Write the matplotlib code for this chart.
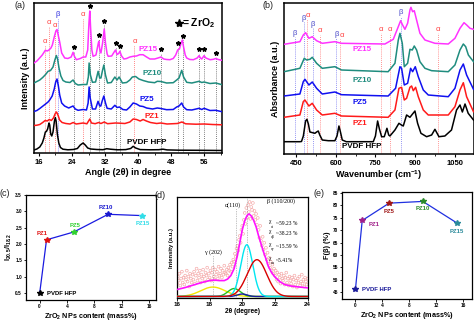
import numpy as np
import matplotlib
matplotlib.use("Agg")
import matplotlib.pyplot as plt

plt.rcParams["font.family"] = ["Liberation Sans", "DejaVu Sans"]
plt.rcParams["mathtext.fontset"] = "custom"
plt.rcParams["mathtext.rm"] = "Liberation Sans"
plt.rcParams["mathtext.bf"] = "Liberation Sans:bold"
plt.rcParams["mathtext.it"] = "Liberation Sans:italic"

W, H = 474, 321

# ---------------- (a) XRD patterns: (2theta, intensity) ----------------
xrd_pvdf_x = [14.8, 15.5, 16.2, 16.8, 17.2, 17.55, 17.8, 18.1, 18.43, 18.6, 18.85, 19.1, 19.4, 19.75, 19.96, 20.15,
              20.45, 20.8, 21.2, 21.8, 23, 24.3, 25.3, 26.0, 26.68, 27.2, 27.8, 28.5, 30, 31.5, 32.4, 33.3, 35, 37,
              38.2, 38.8, 39.4, 40.5, 43, 45, 46, 47, 50, 55, 60.3]
xrd_pvdf_y = [3, 4, 6, 10, 15, 21, 21.5, 24, 30, 28, 19, 17, 21, 32, 35.5, 32,
              19, 10, 5.5, 3.8, 3.2, 3.5, 4.5, 8, 10, 8, 5, 4, 3.5, 3.3, 4.3, 3.8, 3.2, 3.4,
              4.5, 6.7, 5, 3.4, 3.2, 3.3, 3.8, 3.1, 2.8, 2.7, 2.5]

xrd_pz1_x = [14.8, 15.5, 16.2, 16.9, 17.5, 18.0, 18.5, 19.0, 19.5, 19.95, 20.25, 20.6, 21.0, 21.6, 22.5, 23.5, 24.3,
             25, 26.7, 27.6, 28.3, 28.7, 29.6, 30.45, 31.0, 31.8, 32.6, 34.5, 35.6, 36.8, 38.0, 38.8, 39.6, 40.5,
             41.2, 42.0, 43.0, 44.5, 45.5, 47, 49.5, 50.6, 51.5, 54, 56, 58, 60.3]
xrd_pz1_y = [27.5, 27.8, 28.5, 30.5, 32.5, 32, 33.5, 32.5, 35, 39.5, 41, 38, 33, 30.5, 29.5, 29, 30.5,
             29, 30, 29.2, 34, 30, 29.3, 30.5, 29.5, 31, 29.3, 30, 29.8, 29.5, 31, 34, 33.5, 32,
             33.5, 32, 30.5, 29.5, 30, 29, 29.5, 31, 29.2, 28.8, 29, 28.5, 28.2]

xrd_pz5_x = [14.8, 15.5, 16.2, 16.97, 17.6, 18.2, 18.6, 19.2, 19.7, 20.05, 20.37, 20.7, 21.02, 21.5, 22.2, 23.2,
             24.25, 24.8, 25.47, 26.7, 27.5, 27.9, 28.14, 28.4, 28.94, 29.7, 30.3, 30.7, 30.97, 31.3, 31.7, 32.1,
             32.5, 33.5, 34.37, 34.9, 35.5, 36.3, 37.2, 38.0, 38.8, 39.6, 40.4, 41.2, 42.05, 43.5, 44.64, 45.5,
             46.9, 48.5, 49.33, 49.9, 50.55, 51.0, 51.76, 53.0, 54.75, 55.4, 55.96, 57.4, 58.8, 60.3]
xrd_pz5_y = [41.5, 42.5, 44.5, 47, 49, 51, 53, 57, 64, 71, 74, 67, 58, 50, 47, 45,
             47, 44, 42.7, 43.5, 43, 50, 66, 55, 44, 44, 51.7, 47, 47, 52, 57, 50,
             44.7, 44, 47.7, 45.5, 46, 43.5, 43, 46, 50, 49, 47, 46.5, 45, 44, 45, 44.5,
             43.3, 43.5, 46, 47, 50, 46, 43.3, 43, 44.7, 43.5, 44.7, 42.5, 42.7, 41.3]

xrd_pz10_x = [14.8, 15.5, 16.2, 16.9, 17.6, 18.2, 18.8, 19.4, 19.85, 20.21, 20.5, 20.85, 21.3, 21.83, 22.5, 23.5,
              24.25, 24.8, 25.47, 26.7, 27.6, 27.95, 28.14, 28.45, 28.94, 29.7, 30.32, 30.7, 31.0, 31.35, 31.7,
              32.1, 32.6, 33.5, 34.37, 34.9, 35.4, 36.2, 37.2, 38.0, 38.6, 39.4, 40.2, 41.2, 42.5, 44.0, 44.64,
              45.5, 46.9, 48.5, 49.33, 49.9, 50.55, 51.0, 51.76, 53.0, 54.75, 55.4, 55.96, 57.4, 58.8, 60.3]
xrd_pz10_y = [70, 71.5, 73, 75.5, 78.5, 81.7, 82.5, 86, 93, 97.5, 94, 85, 77, 72.5, 71, 70.5,
              73, 69.5, 68, 68.5, 68.5, 76, 90, 78, 70.7, 71, 81.7, 75, 75, 82, 88,
              78, 70, 70.5, 76, 73, 76, 70, 70.5, 73, 76, 76.5, 74, 72.5, 71, 70.3, 71.7,
              71.5, 70, 70.3, 73, 75, 82.7, 76, 70.7, 70, 71.7, 70.5, 71, 69.5, 70, 68.3]

xrd_pz15_x = [14.8, 15.5, 16.16, 16.8, 17.54, 18.0, 18.43, 18.9, 19.24, 19.7, 20.1, 20.37, 20.7, 21.02, 21.5, 22.23,
              23.0, 23.8, 24.25, 24.6, 25.06, 26.0, 26.7, 27.33, 27.8, 28.1, 28.3, 28.5, 28.8, 29.1, 29.8, 30.32,
              30.48, 30.7, 31.0, 31.4, 31.8, 32.1, 32.5, 32.75, 33.6, 34.2, 34.53, 34.9, 35.3, 35.58, 36.0, 36.55,
              37.2, 38.0, 38.8, 39.6, 40.4, 41.2, 42.05, 42.86, 44.0, 44.8, 45.53, 46.2, 46.9, 47.7, 48.5, 49.1,
              49.57, 50.0, 50.4, 50.7, 51.0, 51.4, 51.76, 52.5, 53.38, 54.3, 54.75, 55.1, 55.4, 55.96, 56.4,
              57.42, 58.2, 58.8, 59.4, 60.3]
xrd_pz15_y = [90, 92, 95, 98, 102.7, 102, 103, 105, 108, 116, 122, 123.5, 117, 111, 100, 95,
              94.5, 96, 100.7, 96.5, 93.3, 94.5, 96, 96, 103, 130, 142, 125, 103, 96.7, 98, 109,
              111.7, 104, 100, 110, 124, 110, 99, 96.7, 97, 101, 103, 98.5, 99.5, 101.7, 97, 94,
              94.5, 96, 96.7, 97, 98.3, 98.3, 96, 94, 94, 95, 96, 94, 93.5, 93.3, 94.5, 98,
              103, 104, 110, 113, 106, 98, 95, 93.5, 93.3, 95, 97.3, 95, 94, 97.3, 95,
              93.3, 93.7, 94.5, 93.5, 92.7]

zro2_peaks = [24.4, 28.4, 30.5, 31.85, 34.6, 35.7, 45.5, 49.6, 50.75, 54.75, 56.05, 58.8]
zro2_star_y = [106, 147, 118, 131.7, 110, 106.7, 104, 110, 117, 104, 104, 100]
xrd_alpha_x = [17.5, 18.45, 19.8, 26.7, 39.1]
xrd_alpha_y = [111.7, 130, 127, 138, 111.7]
xrd_beta_x = [20.6]
xrd_beta_y = [138]

# ---------------- (b) FTIR spectra: (wavenumber, absorbance) ----------------
ir_pvdf_x = [405, 465, 471, 478, 486.5, 491.5, 497, 502.8, 521.7, 528, 534.3, 540, 549.4, 572, 597, 605, 612.3,
             618, 624.8, 640, 741.8, 750, 758.2, 765, 773.3, 783.3, 793.4, 800, 804.7, 823.6, 838.7, 848, 855,
             867.6, 880.2, 890, 899.1, 909.1, 921.7, 943.1, 962, 974.5, 989.6, 1012, 1037, 1056, 1069, 1078,
             1088, 1100, 1120]
ir_pvdf_y = [12.3, 12.3, 12.5, 18, 33, 34.7, 30, 22, 20.7, 22, 23, 19, 14, 13.3, 13.3, 18, 28,
             22, 14, 12.3, 12.3, 18, 33, 25, 17.3, 17.3, 25.7, 19, 18, 24, 30.7, 29, 28,
             39, 36.7, 40, 43, 30.7, 20.7, 17.3, 19, 24.7, 17.3, 18, 24, 44, 49, 42,
             50, 40.7, 34]

ir_pz1_x = [405, 465, 477.7, 484, 499, 511.6, 528, 549.4, 597, 622, 798, 823.6, 838.7, 848.7, 858.8, 867.6,
            880.2, 886.5, 892.8, 901.6, 911.6, 930.5, 949.4, 1024.8, 1050, 1069, 1081.6, 1094, 1120]
ir_pz1_y = [36.7, 39, 52.3, 54, 48, 50.7, 44, 39, 40.7, 38, 36.7, 44, 65.7, 66.7, 54, 55.7,
            66.7, 68, 63.3, 66.7, 57.3, 44, 39, 39, 47.3, 64, 71.3, 57.3, 42.3]

ir_pz5_x = [405, 465, 477.7, 484, 499, 511.6, 528, 549.4, 597, 622, 798, 826, 842.5, 848.7, 858.8, 871.4,
            882.7, 890.3, 900.3, 911.6, 930.5, 949.4, 1024.8, 1050, 1069, 1081.6, 1094, 1120]
ir_pz5_y = [58, 60, 72.3, 74.7, 69, 72, 65.7, 60, 62, 59.3, 58, 65.7, 87.3, 85.7, 69, 70.7,
            85.7, 82.3, 87.3, 77.3, 64, 59, 57.3, 65.7, 84, 90, 79, 64.7]

ir_pz10_x = [405, 465, 481.4, 490.3, 502.8, 511.6, 528, 549.4, 597, 622, 798, 823.6, 836.2, 842.5, 851.3, 858.8,
             871.4, 880.2, 889, 896.5, 905.3, 917.9, 936.8, 962, 1024.8, 1050, 1069, 1081.6, 1090.5, 1100.6, 1120]
ir_pz10_y = [82.3, 85.7, 95.7, 94, 94.7, 96.7, 90.7, 85.7, 87.3, 84, 82.3, 90.7, 114, 120.7, 110.7, 87.3,
             90.7, 104.7, 104, 108, 104, 92.3, 85.7, 83.3, 82.3, 89, 104, 110, 107.3, 99, 92.3]

ir_pz15_x = [405, 465, 477.7, 486.5, 499, 511.6, 528, 549.4, 597, 622, 785.8, 817.3, 836.2, 845, 852.5, 861.3,
             871.4, 880.2, 884, 890.3, 896.5, 905.3, 917.9, 936.8, 974.5, 1024.8, 1050, 1069, 1084.2, 1094.3,
             1106.9, 1120]
ir_pz15_y = [109.7, 112.3, 119, 121.3, 115.7, 117.3, 113.3, 110.7, 112.3, 110.7, 110, 114.7, 127.3, 133.3, 129,
             124.7, 130.7, 144, 146.7, 142.3, 143.3, 134, 120.7, 114, 110.7, 110, 115.7, 125.7, 131.3, 129,
             125.7, 124.7]

ir_beta_x = [446, 481, 515, 603, 845]
ir_beta_y = [120.7, 135.7, 130, 120, 141.3]
ir_alpha_x = [496, 540.6, 622.5, 770.8, 804.7, 984.7]
ir_alpha_y = [139, 123.3, 119, 125, 125, 124.7]
ir_alpha_lines = [493, 540, 618, 771, 805, 985]

# ---------------- (c), (e) trends ----------------
samples = ["PVDF HFP", "PZ1", "PZ5", "PZ10", "PZ15"]
zro2_content = [0, 1, 5, 10, 15]
intensity_ratio = [0.5, 2.13, 2.37, 2.91, 2.87]
f_beta = [46.2, 73.9, 80.9, 81.6, 73.0]

# ---------------- (d) peak deconvolution of PVDF-HFP ----------------
raw_2theta = np.round(np.arange(16.0, 24.0001, 0.05), 2)
raw_counts = [14, 21, 17, 24, 12, 19, 26, 15, 20, 13, 22, 18, 27, 16, 21, 11, 24, 19, 15, 23,
              18, 26, 14, 22, 29, 17, 24, 20, 27, 15, 23, 19, 28, 21, 16, 25, 22, 30, 18, 24,
              20, 27, 17, 25, 30, 21, 18, 28, 23, 26, 19, 31, 22, 24, 29, 20, 27, 23, 32, 25,
              24, 28, 22, 30, 27, 33, 26, 35, 31, 38, 36, 44, 41, 49, 52, 47, 58, 62, 55, 68,
              72, 64, 78, 85, 74, 90, 80, 93, 86, 96, 79, 91, 88, 95, 82, 87, 78, 84, 73, 80,
              68, 60, 72, 57, 52, 61, 48, 55, 43, 50, 38, 45, 34, 40, 30, 36, 27, 33, 24, 29,
              22, 27, 18, 25, 16, 23, 20, 14, 24, 19, 17, 22, 13, 20, 25, 15, 19, 12, 21, 17,
              14, 20, 11, 18, 22, 13, 17, 10, 19, 15, 21, 12, 16, 23, 14, 18, 11, 20, 16, 13, 19]
fit_2theta = [16.0, 16.5, 17.0, 17.5, 18.0, 18.3, 18.6, 18.9, 19.1, 19.3, 19.5, 19.7, 19.85, 20.0, 20.15, 20.3,
              20.42, 20.55, 20.7, 20.85, 21.0, 21.15, 21.3, 21.45, 21.6, 21.8, 22.0, 22.3, 22.6, 23.0, 23.4, 24.0]
fit_total = [8, 10, 12.5, 15, 17, 17.5, 17, 17, 18.5, 22, 29, 42, 55, 68, 77, 82.5,
             84, 82, 77.5, 71, 62, 54, 46, 39, 31.3, 25, 20.7, 16, 13, 11.5, 10.7, 9.7]
peak_center = [18.2, 19.5, 20.0, 20.28, 20.9]
peak_height = [9.5, 8.0, 2.5, 52, 37]
peak_sigma = [0.75, 0.38, 0.3, 0.37, 0.6]
peak_color = ["#f2e600", "#22c022", "#1a1aa0", "#00e6f0", "#d80000"]
fit_base = 1.0
cryst_labels = ["ct", "cβ", "cγ", "cα"]
cryst_values = ["~59.23 %", "~38.23 %", "~15.59 %", "~5.41%"]

MAG = "#ff33ff"
TEAL = "#1f8c7e"
BLUE = "#1010f0"
RED = "#ff1a1a"


def box(l, t, r, b):
    return [l / W, 1 - b / H, (r - l) / W, (b - t) / H]


fig = plt.figure(figsize=(W / 100, H / 100), dpi=100)


def style_axes(ax, lw=1.1):
    for s in ax.spines.values():
        s.set_linewidth(lw)


# ---------- panel (a) ----------
axa = fig.add_axes(box(34, 3, 222, 153))
style_axes(axa)
axa.set_xlim(14.8, 60.3)
axa.set_ylim(0, 150)
for xs, ys, c in [(xrd_pvdf_x, xrd_pvdf_y, "black"), (xrd_pz1_x, xrd_pz1_y, RED),
                  (xrd_pz5_x, xrd_pz5_y, BLUE), (xrd_pz10_x, xrd_pz10_y, TEAL),
                  (xrd_pz15_x, xrd_pz15_y, MAG)]:
    axa.plot(xs, ys, color=c, lw=1.1, solid_joinstyle="round", zorder=3)
for px, py in zip(zro2_peaks, zro2_star_y):
    axa.plot([px, px], [0, py - 4], ls=(0, (1, 1.5)), color="#555555", lw=0.6, zorder=1)
axa.plot(zro2_peaks, zro2_star_y, ls="none", marker="*", ms=3.2, color="black", zorder=4)
for px, py in zip(xrd_alpha_x, xrd_alpha_y):
    axa.plot([px, px], [0, py - 4], ls=(0, (1, 1.5)), color="#ff6060", lw=0.6, zorder=1)
    axa.text(px, py, "α", color="#ff4040", fontsize=5.5, ha="center", va="center")
for px, py in zip(xrd_beta_x, xrd_beta_y):
    axa.plot([px, px], [0, py - 4], ls=(0, (1, 1.5)), color="#6060ff", lw=0.6, zorder=1)
    axa.text(px, py, "β", color="#3030e0", fontsize=5.5, ha="center", va="center")
axa.plot([49.8], [130], marker="*", ms=6, color="black", ls="none")
axa.text(50.6, 130, "= ZrO$_\\mathbf{2}$", fontsize=7.5, fontweight="bold", va="center")
for txt, x, y, c in [("PZ15", 42.4, 103, MAG), ("PZ10", 43.3, 79, TEAL), ("PZ5", 42.1, 53, BLUE),
                     ("PZ1", 43.3, 36, RED), ("PVDF HFP", 42.1, 10, "black")]:
    axa.text(x, y, txt, color=c, fontsize=5.8, fontweight="bold", ha="center", va="center")
axa.set_xticks([16, 24, 32, 40, 48, 56])
axa.set_xticks([20, 28, 36, 44, 52, 60], minor=True)
axa.set_yticks([])
axa.tick_params(axis="x", which="major", direction="out", length=2.5, width=0.8, labelsize=5.5, pad=1.5)
axa.tick_params(axis="x", which="minor", direction="out", length=1.5, width=0.6)
for t in axa.get_xticklabels():
    t.set_fontweight("bold")
axa.set_xlabel("Angle (2θ) in degree", fontsize=6.5, fontweight="bold", labelpad=1.5)
axa.set_ylabel("Intensity (a.u.)", fontsize=6.5, fontweight="bold", labelpad=3)

# ---------- panel (b) ----------
axb = fig.add_axes(box(284, 3, 473.5, 154))
style_axes(axb)
axb.set_xlim(405, 1120)
axb.set_ylim(0, 151)
for xs, ys, c in [(ir_pvdf_x, ir_pvdf_y, "black"), (ir_pz1_x, ir_pz1_y, RED),
                  (ir_pz5_x, ir_pz5_y, BLUE), (ir_pz10_x, ir_pz10_y, TEAL),
                  (ir_pz15_x, ir_pz15_y, MAG)]:
    axb.plot(xs, ys, color=c, lw=1.1, solid_joinstyle="round", zorder=3)
for px, py in zip(ir_beta_x, ir_beta_y):
    axb.plot([px, px], [0, py - 4], ls=(0, (1, 1.5)), color="#7070ee", lw=0.6, zorder=1)
    axb.text(px, py, "β", color="#4848c8", fontsize=5.5, ha="center", va="center")
for lx, (px, py) in zip(ir_alpha_lines, zip(ir_alpha_x, ir_alpha_y)):
    axb.plot([lx, lx], [0, py - 4], ls=(0, (1, 1.5)), color="#ff7070", lw=0.6, zorder=1)
    axb.text(px, py, "α", color="#ff4040", fontsize=5.5, ha="center", va="center")
for txt, x, y, c in [("PZ15", 698, 105, MAG), ("PZ10", 698, 74, TEAL), ("PZ5", 692, 52, BLUE),
                     ("PZ1", 692, 31, RED), ("PVDF HFP", 698, 7.3, "black")]:
    axb.text(x, y, txt, color=c, fontsize=5.8, fontweight="bold", ha="center", va="center")
axb.set_xticks([450, 600, 750, 900, 1050])
axb.set_xticks([525, 675, 825, 975], minor=True)
axb.set_yticks([])
axb.tick_params(axis="x", which="major", direction="out", length=2.5, width=0.8, labelsize=5.5, pad=1.5)
axb.tick_params(axis="x", which="minor", direction="out", length=1.5, width=0.6)
for t in axb.get_xticklabels():
    t.set_fontweight("bold")
axb.set_xlabel("Wavenumber (cm$^{\\mathbf{-1}}$)", fontsize=6.5, fontweight="bold", labelpad=1.5)
axb.set_ylabel("Absorbance (a.u.)", fontsize=6.5, fontweight="bold", labelpad=3)


def trend_panel(ax, yvals, marker_colors, label_colors, line_color, offsets):
    ax.plot(zro2_content, yvals, color=line_color, lw=0.9, zorder=2)
    for x, y, mc in zip(zro2_content, yvals, marker_colors):
        ax.plot([x], [y], marker="*", ms=3.8, color=mc, ls="none", zorder=3)
    for name, x, y, lc, (dx, dy, ha) in zip(samples, zro2_content, yvals, label_colors, offsets):
        ax.text(x + dx, y + dy, name, color=lc, fontsize=4.3, fontweight="bold", ha=ha, va="center")
    ax.set_xticks([0, 4, 8, 12, 16])
    ax.tick_params(direction="out", length=1.8, width=0.6, labelsize=3.4, pad=1)
    for t in ax.get_xticklabels() + ax.get_yticklabels():
        t.set_fontweight("bold")
    ax.set_xlabel("ZrO$_\\mathbf{2}$ NPs content (mass%)", fontsize=5.2, fontweight="bold", labelpad=1.5)


# ---------- panel (c) ----------
axc = fig.add_axes(box(26, 195, 156, 300))
style_axes(axc, 0.9)
axc.set_xlim(-2, 17)
axc.set_ylim(0.29, 3.5)
axc.set_yticks([0.5, 1.0, 1.5, 2.0, 2.5, 3.0, 3.5])
trend_panel(axc, intensity_ratio,
            ["black", "#e01010", "#30d030", "#1a1ad0", "#30dde8"],
            ["black", "#e01010", "#30d030", "#1a1ad0", "#30dde8"],
            "#1a1ae0",
            [(1.0, 0, "left"), (-0.6, 0.2, "center"), (0.2, 0.2, "center"), (-0.3, 0.2, "center"), (0.1, -0.23, "center")])
axc.yaxis.set_major_formatter(matplotlib.ticker.FormatStrFormatter("%.1f"))
for t in axc.get_yticklabels():
    t.set_fontweight("bold")
axc.set_ylabel("I$_{\\mathbf{20.5}}$/I$_{\\mathbf{18.2}}$", fontsize=5.2, fontweight="bold", labelpad=1)

# ---------- panel (e) ----------
axe = fig.add_axes(box(342, 192, 472, 299))
style_axes(axe, 0.9)
axe.set_xlim(-2, 17.3)
axe.set_ylim(42.2, 85.4)
axe.set_yticks([45, 50, 55, 60, 65, 70, 75, 80, 85])
trend_panel(axe, f_beta,
            ["#1a1a9a", "#a0208a", "#a01818", "#2a8a2a", "#2a8a9a"],
            ["#1a1a9a", "#a0208a", "#a01818", "#2a8a2a", "#2a8a9a"],
            "#2030e0",
            [(1.0, 0, "left"), (1.0, -1.8, "left"), (0, -3.2, "center"), (0, -3.0, "center"), (0, -3.6, "center")])
axe.set_ylabel("F(β) (%)", fontsize=5.2, fontweight="bold", labelpad=1)

# ---------- panel (d) ----------
axd = fig.add_axes(box(177, 197, 307.5, 298))
style_axes(axd, 0.9)
axd.set_xlim(16, 24)
axd.set_ylim(-0.5, 101)
axd.scatter(raw_2theta, raw_counts, s=4, facecolors="none", edgecolors="#f4a4a4", linewidths=0.45, zorder=1)
xx = np.linspace(16, 24, 400)
for c0, h0, s0, col in zip(peak_center, peak_height, peak_sigma, peak_color):
    axd.plot(xx, fit_base + h0 * np.exp(-(xx - c0) ** 2 / (2 * s0 ** 2)), color=col, lw=1.0, zorder=3)
axd.plot(fit_2theta, fit_total, color="#ff11ff", lw=1.2, zorder=4)
for px, top in [(18.2, 43), (19.6, 90), (20.3, 101)]:
    axd.plot([px, px], [0, top], ls=(0, (1, 1.5)), color="#888888", lw=0.5, zorder=2)
serif = ["Liberation Serif", "DejaVu Serif"]
axd.text(19.4, 93, "α(110)", fontsize=4.3, family=serif, ha="center", va="center")
axd.text(22.35, 97, "β (110/200)", fontsize=4.3, family=serif, ha="center", va="center")
axd.text(18.2, 46, "γ (202)", fontsize=4.3, family=serif, ha="center", va="center")
for i, (lab, val) in enumerate(zip(cryst_labels, cryst_values)):
    y0 = [74, 64.5, 51.5, 37.5][i]
    axd.text(21.7, y0 + 2, "χ", fontsize=4.0, family=serif, ha="center", va="center")
    axd.text(21.85, y0 - 3.2, lab, fontsize=3.0, family=serif, ha="center", va="center")
    axd.text(22.05, y0, val, fontsize=4.0, family=serif, ha="left", va="center")
axd.set_xticks([16, 18, 20, 22, 24])
axd.set_yticks([])
axd.tick_params(axis="x", direction="out", length=1.8, width=0.6, labelsize=4.5, pad=1)
for t in axd.get_xticklabels():
    t.set_fontweight("bold")
axd.set_xlabel("2θ (degree)", fontsize=4.8, fontweight="bold", labelpad=1)
axd.set_ylabel("Intensity (a.u.)", fontsize=4.2, fontweight="bold", labelpad=2)

# ---------- panel letters ----------
for txt, x, y in [("(a)", 20, 6), ("(b)", 268, 6), ("(c)", 5, 194), ("(d)", 160, 196), ("(e)", 319, 194)]:
    fig.text(x / W, 1 - y / H, txt, fontsize=6.5, ha="center", va="center", color="#222222")

fig.savefig("out.png", dpi=100)
